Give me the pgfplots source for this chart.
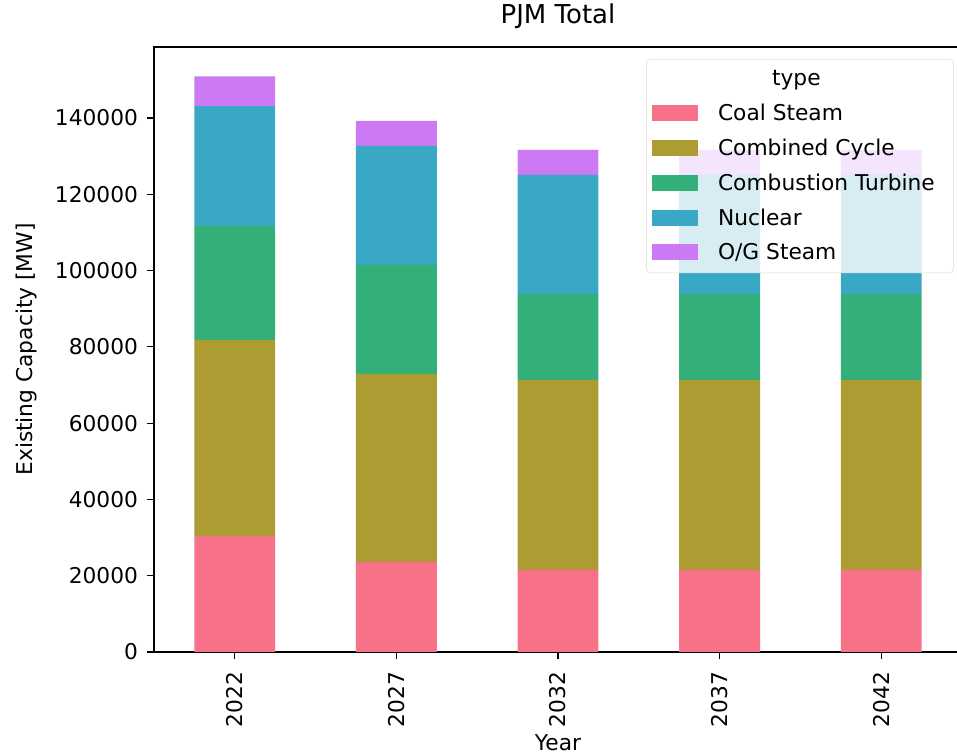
\documentclass[border=0pt]{standalone}
\usepackage{pgfplots}
\pgfplotsset{compat=1.18}
\usepackage{fontspec}
\setmainfont{DejaVu Sans}
\definecolor{cCoal}{HTML}{F77189}
\definecolor{cCC}{HTML}{AD9C31}
\definecolor{cCT}{HTML}{33B07A}
\definecolor{cNuc}{HTML}{38A8C5}
\definecolor{cOG}{HTML}{CC79F4}
\pgfplotstableread{
x coal cc ct nuc og
0 30400 51400 29900 31400 7800
1 23600 49300 28600 31200 6500
2 21500 49800 22600 31200 6500
3 21500 49800 22600 31200 6500
4 21500 49800 22600 31200 6500
}\datatab
\begin{document}
\begin{tikzpicture}[font=\fontsize{16.3}{19.5}\selectfont]
\path[use as bounding box] (-115.5pt,-78pt) rectangle (602.25pt,489pt);
\begin{axis}[
  scale only axis, width=606pt, height=453.75pt,
  ybar stacked, bar width=0.5,
  xmin=-0.5, xmax=4.5, ymin=0, ymax=158600,
  xtick={0,1,2,3,4}, xticklabels={2022,2027,2032,2037,2042},
  ytick={0,20000,40000,60000,80000,100000,120000,140000},
  scaled y ticks=false,
  /pgf/number format/assume math mode=true,
  yticklabel style={/pgf/number format/fixed, /pgf/number format/1000 sep={}},
  xticklabel style={rotate=90, anchor=east},
  xticklabel shift=6pt, yticklabel shift=3pt,
  tick align=outside, major tick length=5.5pt,
  xtick pos=bottom, ytick pos=left,
  axis line style={line width=0.9pt}, tick style={line width=0.9pt, black},
  title={PJM Total},
  title style={at={(rel axis cs:0.5,1.0248)}, anchor=base, yshift=0pt, inner sep=0pt, font=\fontsize{19.5}{23}\selectfont},
  xlabel={Year},
  xlabel style={at={(rel axis cs:0.5,-0.1620)}, anchor=base, inner sep=0pt},
  ylabel={Existing Capacity [MW]},
  ylabel style={at={(rel axis cs:-0.1498,0.5)}, anchor=base, inner sep=0pt},
  legend style={at={(rel axis cs:0.609,0.98)}, anchor=north west,
    fill=white, fill opacity=0.8, text opacity=1, draw=black!15,
    rounded corners=3pt, cells={anchor=west}, row sep=8.2pt,
    inner xsep=4pt, inner ysep=6.5pt},
  legend image code/.code={\fill[#1, sharp corners, fill opacity=1] (0pt,-6pt) rectangle (34.5pt,6pt);},
  /tikz/every odd column/.style={column sep=13.3pt},
]
\addlegendimage{empty legend}
\addlegendentry{\hspace*{40.5pt}type}
\addplot[fill=cCoal, draw=none] table[x=x, y=coal] {\datatab};
\addlegendentry{Coal Steam}
\addplot[fill=cCC, draw=none] table[x=x, y=cc] {\datatab};
\addlegendentry{Combined Cycle}
\addplot[fill=cCT, draw=none] table[x=x, y=ct] {\datatab};
\addlegendentry{Combustion Turbine\hspace*{8pt}}
\addplot[fill=cNuc, draw=none] table[x=x, y=nuc] {\datatab};
\addlegendentry{Nuclear}
\addplot[fill=cOG, draw=none] table[x=x, y=og] {\datatab};
\addlegendentry{O/G Steam}
\end{axis}
\end{tikzpicture}
\end{document}
